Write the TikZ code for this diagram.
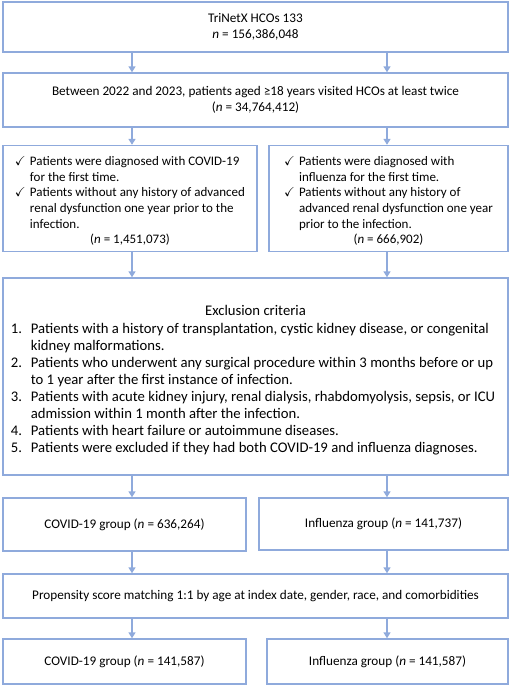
\documentclass[tikz,border=0pt]{standalone}
\usepackage{amssymb}
\usepackage{fontspec}
\setmainfont{Carlito}
\usetikzlibrary{positioning, arrows.meta}

\definecolor{boxblue}{HTML}{8FAADC}
\newcommand{\nval}[1]{\textit{n} = #1}
\newcommand{\ck}{$\checkmark$}
% fixed-size box contents, aligned at top
\newcommand{\topbox}[4]{\parbox[c][#2][t]{#1}{\vspace*{#3}\centering #4\par}}

\tikzset{
  flowbox/.style={draw=boxblue, line width=1.4pt, align=center, inner sep=0pt,
    font=\fontsize{13.2}{16}\selectfont},
  checkbox/.style={flowbox, font=\fontsize{13}{15.7}\selectfont},
  critbox/.style={flowbox, font=\fontsize{14.7}{17}\selectfont},
  flowarrow/.style={draw=boxblue, line width=1.8pt, -{Triangle[width=7pt,length=6pt]}},
}

\begin{document}
\begin{tikzpicture}[x=1pt, y=-1pt]
  \useasboundingbox (0,0) rectangle (510,685);
  \coordinate (colL) at (132,0);
  \coordinate (colR) at (387,0);

  % boxes
  \node[flowbox, minimum width=505pt, minimum height=50pt] (hcos) at (255.5,27)
    {TriNetX HCOs 133\\ \nval{156,386,048}};
  \node[flowbox, minimum width=505pt, minimum height=54pt] (visit) at (255.5,100)
    {Between 2022 and 2023, patients aged ≥18 years visited HCOs at least twice\\ (\nval{34,764,412})};

  \node[checkbox] (covid) at (130,198.5)
    {\topbox{254pt}{106pt}{9pt}{%
     \begin{tabular}{@{}p{15pt}@{}l@{}}
      \ck & Patients were diagnosed with COVID-19\\
          & for the first time.\\
      \ck & Patients without any history of advanced\\
          & renal dysfunction one year prior to the\\
          & infection.
     \end{tabular}\\ (\nval{1,451,073})}};
  \node[checkbox] (flu) at (388.5,198.5)
    {\topbox{239pt}{106pt}{9pt}{%
     \begin{tabular}{@{}p{15pt}@{}l@{}}
      \ck & Patients were diagnosed with\\
          & influenza for the first time.\\
      \ck & Patients without any history of\\
          & advanced renal dysfunction one year\\
          & prior to the infection.
     \end{tabular}\\ (\nval{666,902})}};

  \node[critbox] (excl) at (255.5,376.5)
    {\topbox{505pt}{197pt}{26pt}{%
     \strut Exclusion criteria\\
     \begin{tabular}{@{}p{20pt}@{}l@{\hspace{5pt}}}
      1. & Patients with a history of transplantation, cystic kidney disease, or congenital\\
         & kidney malformations.\\
      2. & Patients who underwent any surgical procedure within 3 months before or up\\
         & to 1 year after the first instance of infection.\\
      3. & Patients with acute kidney injury, renal dialysis, rhabdomyolysis, sepsis, or ICU\\
         & admission within 1 month after the infection.\\
      4. & Patients with heart failure or autoimmune diseases.\\
      5. & Patients were excluded if they had both COVID-19 and influenza diagnoses.
     \end{tabular}}};

  \node[flowbox, minimum width=243pt, minimum height=53pt] (covidgrp) at (124.5,524.5)
    {COVID-19 group (\nval{636,264})};
  \node[flowbox, minimum width=249pt, minimum height=52pt] (flugrp) at (383.5,524)
    {Influenza group (\nval{141,737})};

  \node[flowbox, minimum width=505pt, minimum height=44pt] (psm) at (255.5,596)
    {Propensity score matching 1:1 by age at index date, gender, race, and comorbidities};

  \node[flowbox, minimum width=243pt, minimum height=45pt] (covidmatch) at (124.5,661.5)
    {COVID-19 group (\nval{141,587})};
  \node[flowbox, minimum width=241pt, minimum height=45pt] (flumatch) at (387.5,661.5)
    {Influenza group (\nval{141,587})};

  % arrows
  \draw[flowarrow] (hcos.south -| colL) -- (visit.north -| colL);
  \draw[flowarrow] (hcos.south -| colR) -- (visit.north -| colR);
  \draw[flowarrow] (visit.south -| colL) -- (covid.north -| colL);
  \draw[flowarrow] (visit.south -| colR) -- (flu.north -| colR);
  \draw[flowarrow] (covid.south -| colL) -- (excl.north -| colL);
  \draw[flowarrow] (flu.south -| colR) -- (excl.north -| colR);
  \draw[flowarrow] (excl.south -| colL) -- (covidgrp.north -| colL);
  \draw[flowarrow] (excl.south -| colR) -- (flugrp.north -| colR);
  \draw[flowarrow] (covidgrp.south -| colL) -- (psm.north -| colL);
  \draw[flowarrow] (flugrp.south -| colR) -- (psm.north -| colR);
  \draw[flowarrow] (psm.south -| colL) -- (covidmatch.north -| colL);
  \draw[flowarrow] (psm.south -| colR) -- (flumatch.north -| colR);
\end{tikzpicture}
\end{document}
